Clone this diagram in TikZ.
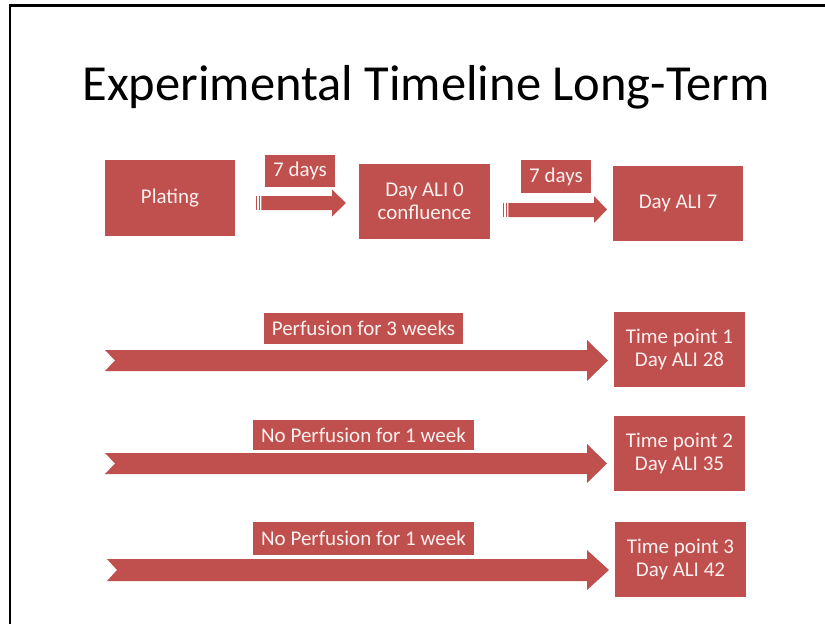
\documentclass[tikz,border=0pt]{standalone}
\usepackage{fontspec}
\setmainfont{Carlito}
\definecolor{boxred}{HTML}{C0504D}
\definecolor{boxtext}{HTML}{FBF1F0}
\begin{document}
\begin{tikzpicture}[x=1pt,y=-1pt,
  redbox/.style={fill=boxred, draw=none, text=boxtext, inner sep=0pt, align=center, font=\fontsize{21}{22.5}\selectfont},
  redshape/.style={fill=boxred, draw=none}]
\useasboundingbox (0,0) rectangle (825,624);
% frame
\draw[line width=2.2pt] (10,624) |- (825,5.5);
% title
\node[anchor=base, font=\fontsize{50.5}{60}\selectfont] (title) at (426,100) {Experimental Timeline Long-Term};
% top row boxes
\node[redbox, minimum width=130, minimum height=76] (plating) at (170,198) {Plating};
\node[redbox, minimum width=131, minimum height=75] (day0) at (424.5,201.5) {Day ALI 0\\confluence};
\node[redbox, minimum width=130, minimum height=75] (day7) at (678,203.5) {Day ALI 7};
\node[redbox, minimum width=70, minimum height=32] (lab1) at (300,171) {7 days};
\node[redbox, minimum width=70, minimum height=33] (lab2) at (556,176.5) {7 days};
% striped arrows
\coordinate (a1t) at (346,203);
\fill[redshape] (256,196) rectangle (257.2,210);
\fill[redshape] (258.6,196) rectangle (260,210);
\fill[redshape] (261.3,196) -- (332,196) -- (332,189.5) -- (a1t) -- (332,216.5) -- (332,210) -- (261.3,210) -- cycle;
\coordinate (a2t) at (607,209.5);
\fill[redshape] (503,203) rectangle (504.2,217);
\fill[redshape] (505.6,203) rectangle (507,217);
\fill[redshape] (508.3,203) -- (594,203) -- (594,196) -- (a2t) -- (594,223) -- (594,217) -- (508.3,217) -- cycle;
% time point boxes
\node[redbox, minimum width=131, minimum height=75] (tp1) at (679.5,349.5) {Time point 1\\Day ALI 28};
\node[redbox, minimum width=131, minimum height=75] (tp2) at (679.5,453.5) {Time point 2\\Day ALI 35};
\node[redbox, minimum width=131, minimum height=75] (tp3) at (680.5,559.5) {Time point 3\\Day ALI 42};
% chevron arrows
\coordinate (c1t) at (608,360.5);
\fill[redshape] (105,350) -- (587,350) -- (587,340) -- (c1t) -- (587,381) -- (587,371) -- (105,371) -- (115,360.5) -- cycle;
\coordinate (c2t) at (607,463.5);
\fill[redshape] (105,453) -- (587,453) -- (587,444) -- (c2t) -- (587,483) -- (587,474) -- (105,474) -- (115,463.5) -- cycle;
\coordinate (c3t) at (609,570);
\fill[redshape] (107,559) -- (587,559) -- (587,550) -- (c3t) -- (587,590) -- (587,581) -- (107,581) -- (117,570) -- cycle;
% labels
\node[redbox, minimum width=199, minimum height=31] (lab3) at (363.5,328.5) {Perfusion for 3 weeks};
\node[redbox, minimum width=221, minimum height=30] (lab4) at (363.5,435) {No Perfusion for 1 week};
\node[redbox, minimum width=221, minimum height=33] (lab5) at (363.5,538.5) {No Perfusion for 1 week};
\end{tikzpicture}
\end{document}
